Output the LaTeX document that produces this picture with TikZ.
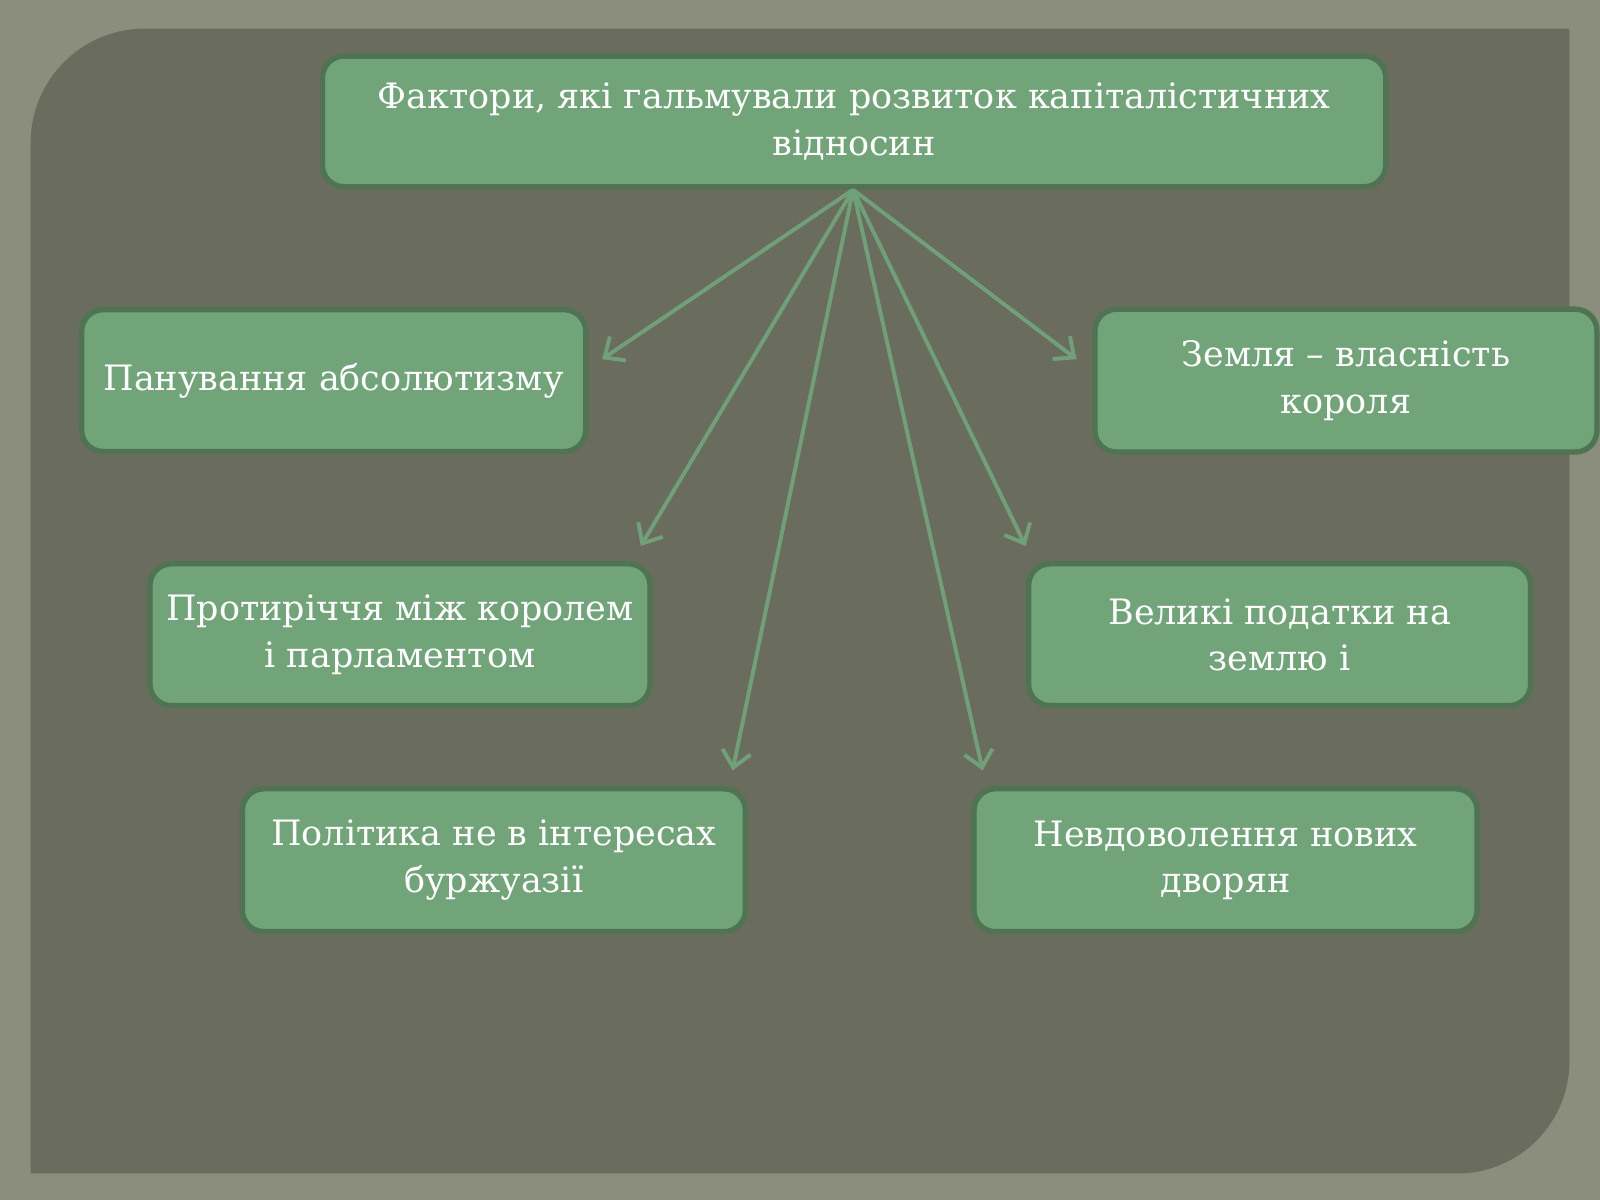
\documentclass[tikz,border=0pt]{standalone}
\usepackage{fontspec}
\setmainfont{DejaVu Serif}
\usetikzlibrary{arrows.meta}
\definecolor{outerbg}{HTML}{8B8E7D}
\definecolor{panel}{HTML}{6A6C5D}
\definecolor{boxfill}{HTML}{72A47A}
\definecolor{boxedge}{HTML}{4E7453}
\definecolor{arr}{HTML}{70A078}
\begin{document}
\begin{tikzpicture}[x=0.02cm,y=-0.02cm,
  fbox/.style={draw=boxedge,line width=3pt,fill=boxfill,rounded corners=12pt,text=white,align=center,font=\fontsize{19.5}{26}\selectfont,inner sep=0pt},
  arrw/.style={draw=arr,line width=2.2pt,-{Straight Barb[length=9pt,width=16pt]}}]
\useasboundingbox (0,0) rectangle (1568,1176);
\fill[outerbg] (0,0) rectangle (1568,1176);
\fill[panel] (30,140) arc[start angle=180,end angle=270,radius=112] -- (1538,28) -- (1538,1040) arc[start angle=0,end angle=90,radius=110] -- (30,1150) -- cycle;
\node[fbox,minimum width=1042*0.02cm,minimum height=128*0.02cm] (top) at (837,119) {Фактори, які гальмували розвиток капіталістичних\\відносин};
\node[fbox,minimum width=494*0.02cm,minimum height=139*0.02cm] (l1) at (327,373) {Панування абсолютизму};
\node[fbox,minimum width=492*0.02cm,minimum height=140*0.02cm] (r1) at (1319,373) {Земля – власність\\короля};
\node[fbox,minimum width=490*0.02cm,minimum height=139*0.02cm] (l2) at (392,622) {Протиріччя між королем\\і парламентом};
\node[fbox,minimum width=492*0.02cm,minimum height=139*0.02cm] (r2) at (1254,622) {Великі податки на\\землю і};
\node[fbox,minimum width=493*0.02cm,minimum height=140*0.02cm] (l3) at (484,843) {Політика не в інтересах\\буржуазії};
\node[fbox,minimum width=493*0.02cm,minimum height=140*0.02cm] (r3) at (1201,843) {Невдоволення нових\\дворян};
\coordinate (s) at (836,186);
\coordinate (e1) at (590,352);
\coordinate (e2) at (628,535);
\coordinate (e3) at (718,755);
\coordinate (e4) at (963,755);
\coordinate (e5) at (1005,535);
\coordinate (e6) at (1055,352);
\foreach \e in {e1,e2,e3,e4,e5,e6} \draw[arrw] (s) -- (\e);
\end{tikzpicture}
\end{document}
